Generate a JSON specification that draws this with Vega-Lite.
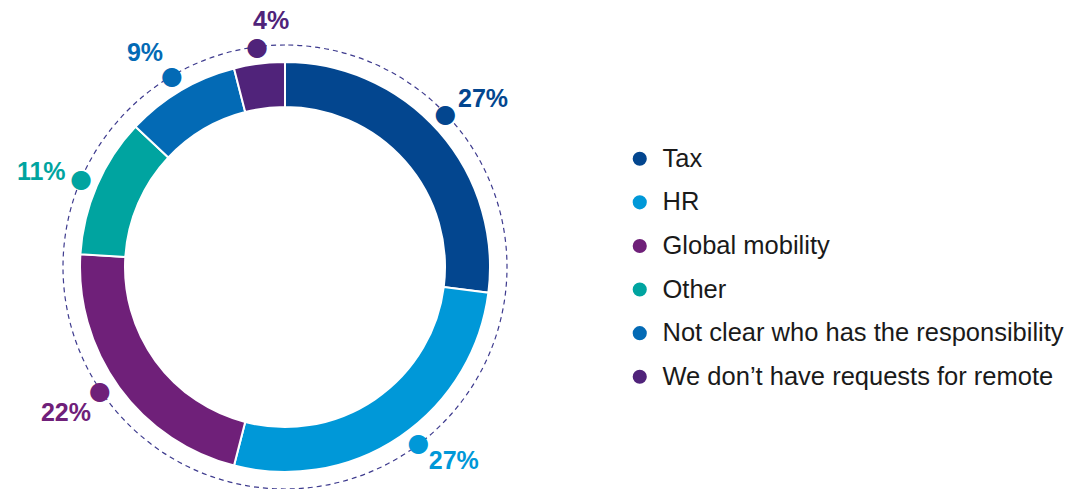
{
  "$schema": "https://vega.github.io/schema/vega-lite/v6.json",
  "width": 570,
  "height": 444,
  "autosize": "none",
  "padding": {"left": 0, "top": 45, "right": 500, "bottom": 0},
  "background": "white",
  "config": {"view": {"stroke": null}, "font": "Liberation Sans"},
  "data": {
    "values": [
      {"category": "Tax", "value": 27, "label": "27%", "rank": 1},
      {"category": "HR", "value": 27, "label": "27%", "rank": 2},
      {"category": "Global mobility", "value": 22, "label": "22%", "rank": 3},
      {"category": "Other", "value": 11, "label": "11%", "rank": 4},
      {"category": "Not clear who has the responsibility", "value": 9, "label": "9%", "rank": 5},
      {"category": "We don’t have requests for remote", "value": 4, "label": "4%", "rank": 6}
    ]
  },
  "encoding": {
    "theta": {"field": "value", "type": "quantitative", "stack": true},
    "order": {"field": "rank", "type": "quantitative"},
    "color": {
      "field": "category",
      "type": "nominal",
      "sort": ["Tax", "HR", "Global mobility", "Other", "Not clear who has the responsibility", "We don’t have requests for remote"],
      "scale": {
        "domain": ["Tax", "HR", "Global mobility", "Other", "Not clear who has the responsibility", "We don’t have requests for remote"],
        "range": ["#03468F", "#0098D8", "#6F2079", "#00A4A0", "#036AB5", "#50237A"]
      },
      "legend": {
        "title": null,
        "orient": "none",
        "legendX": 627,
        "legendY": 101,
        "padding": 0,
        "symbolType": "circle",
        "symbolSize": 200,
        "symbolStrokeWidth": 0,
        "labelFontSize": 25.5,
        "labelFont": "Liberation Sans",
        "labelColor": "#1a1a1a",
        "labelOffset": 10,
        "labelLimit": 600,
        "rowPadding": 16.6
      }
    }
  },
  "layer": [
    {
      "data": {"values": [{"v": 100}]},
      "mark": {"type": "arc", "radius": 222, "filled": false, "stroke": "#3E3B8E", "strokeWidth": 1.2, "strokeDash": [5, 4]},
      "encoding": {
        "theta": {"field": "v", "type": "quantitative"},
        "order": null,
        "color": null
      }
    },
    {
      "mark": {"type": "arc", "innerRadius": 160, "outerRadius": 205, "stroke": "white", "strokeWidth": 2}
    },
    {
      "mark": {"type": "text", "radius": 222, "fontSize": 25, "font": "DejaVu Sans", "baseline": "middle", "align": "center"},
      "encoding": {"text": {"condition": {"test": "datum.rank >= 4", "value": "●"}, "value": ""}}
    },
    {
      "mark": {"type": "text", "radius": 222, "fontSize": 25, "font": "DejaVu Sans", "baseline": "middle", "align": "center", "dx": -6, "dy": -6},
      "encoding": {"text": {"condition": {"test": "datum.rank === 1", "value": "●"}, "value": ""}}
    },
    {
      "mark": {"type": "text", "radius": 222, "fontSize": 25, "font": "DejaVu Sans", "baseline": "middle", "align": "center", "dx": 8.5, "dy": -7.5},
      "encoding": {"text": {"condition": {"test": "datum.rank === 2", "value": "●"}, "value": ""}}
    },
    {
      "mark": {"type": "text", "radius": 222, "fontSize": 25, "font": "DejaVu Sans", "baseline": "middle", "align": "center", "dx": -5.5, "dy": -6},
      "encoding": {"text": {"condition": {"test": "datum.rank === 3", "value": "●"}, "value": ""}}
    },
    {
      "mark": {"type": "text", "radius": 222, "fontSize": 25, "fontWeight": "bold", "dx": 31.5, "dy": -21.5},
      "encoding": {"text": {"condition": {"test": "datum.rank === 1", "field": "label"}, "value": ""}}
    },
    {
      "mark": {"type": "text", "radius": 222, "fontSize": 25, "fontWeight": "bold", "dx": 44, "dy": 10},
      "encoding": {"text": {"condition": {"test": "datum.rank === 2", "field": "label"}, "value": ""}}
    },
    {
      "mark": {"type": "text", "radius": 222, "fontSize": 25, "fontWeight": "bold", "dx": -39.5, "dy": 15.5},
      "encoding": {"text": {"condition": {"test": "datum.rank === 3", "field": "label"}, "value": ""}}
    },
    {
      "mark": {"type": "text", "radius": 222, "fontSize": 25, "fontWeight": "bold", "dx": -40, "dy": -7},
      "encoding": {"text": {"condition": {"test": "datum.rank === 4", "field": "label"}, "value": ""}}
    },
    {
      "mark": {"type": "text", "radius": 222, "fontSize": 25, "fontWeight": "bold", "dx": -27, "dy": -23},
      "encoding": {"text": {"condition": {"test": "datum.rank === 5", "field": "label"}, "value": ""}}
    },
    {
      "mark": {"type": "text", "radius": 222, "fontSize": 25, "fontWeight": "bold", "dx": 14, "dy": -26},
      "encoding": {"text": {"condition": {"test": "datum.rank === 6", "field": "label"}, "value": ""}}
    }
  ]
}
